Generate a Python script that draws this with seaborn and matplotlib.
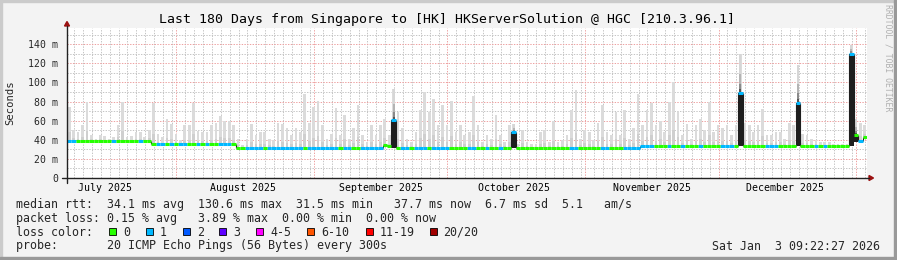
import numpy as np
import pandas as pd
import matplotlib
matplotlib.use("Agg")
import matplotlib.pyplot as plt
import matplotlib.dates as mdates
import matplotlib.transforms as mtransforms
from matplotlib.patches import Rectangle, Polygon
import seaborn as sns

# ---------------- data ----------------
title = "Last 180 Days from Singapore to [HK] HKServerSolution @ HGC [210.3.96.1]"
end_time = "2026-01-03 09:22:27"
n_days = 180

median_ms = (
    [39.0] * 19 + [35.2] * 19 + [31.8] * 33 + [34.5, 33.0, 61.0] + [31.8] * 26
    + [47.7] + [31.8] * 28 + [34.0] * 22 + [88.5] + [34.0] * 12 + [79.0]
    + [34.0] * 11 + [130.3, 45.0, 39.0, 43.0]
)

loss_pings = [
    1, 1, 0, 0, 0, 0, 0, 0, 0, 0,
    1, 0, 0, 0, 0, 0, 1, 0, 0, 0,
    1, 1, 0, 1, 0, 1, 1, 0, 0, 1,
    0, 1, 0, 0, 1, 1, 1, 0, 0, 0,
    1, 1, 1, 1, 0, 1, 1, 1, 1, 1,
    1, 1, 1, 0, 1, 1, 1, 1, 1, 1,
    1, 0, 1, 1, 0, 0, 1, 1, 1, 1,
    1, 0, 0, 1, 0, 1, 1, 0, 1, 1,
    1, 0, 1, 1, 1, 1, 0, 0, 0, 0,
    1, 1, 0, 0, 1, 0, 0, 1, 0, 0,
    1, 0, 0, 0, 0, 0, 0, 0, 0, 0,
    0, 0, 0, 1, 1, 0, 0, 0, 0, 0,
    1, 1, 0, 0, 0, 1, 1, 1, 1, 1,
    1, 1, 0, 0, 0, 1, 0, 0, 1, 0,
    0, 0, 1, 0, 0, 0, 0, 1, 1, 1,
    0, 1, 0, 0, 0, 0, 0, 1, 1, 1,
    0, 0, 0, 0, 1, 0, 0, 0, 1, 0,
    1, 0, 0, 0, 0, 0, 1, 0, 1, 0,
]

smoke_max_ms = [
    74, 50, 48, 55, 80, 45, 41, 45, 44, 41,
    43, 55, 80, 43, 44, 48, 48, 43, 50, 78,
    46, 43, 62, 57, 46, 40, 55, 55, 78, 49,
    48, 48, 55, 58, 65, 60, 60, 55, 41, 35,
    41, 56, 45, 48, 48, 41, 40, 58, 57, 52,
    45, 52, 48, 88, 58, 74, 81, 55, 41, 46,
    73, 45, 66, 41, 52, 76, 45, 38, 55, 45,
    55, 62, 45, 93, 69, 52, 41, 38, 48, 71,
    90, 69, 83, 55, 76, 55, 81, 48, 55, 45,
    48, 86, 55, 38, 45, 41, 66, 45, 38, 55,
    56, 36, 50, 38, 36, 36, 48, 50, 38, 60,
    38, 40, 45, 71, 92, 41, 50, 48, 40, 58,
    76, 48, 45, 69, 45, 71, 41, 52, 88, 55,
    71, 78, 55, 60, 48, 80, 101, 69, 45, 57,
    41, 55, 62, 50, 80, 48, 55, 52, 55, 45,
    55, 130, 58, 55, 48, 55, 72, 45, 45, 48,
    48, 41, 58, 55, 118, 46, 45, 41, 40, 38,
    38, 38, 36, 36, 36, 36, 139, 62, 58, 55,
]

spike_days = [73, 100, 151, 164, 176, 177]
spike_floor_ms = [31.8, 31.8, 34.0, 34.0, 34.0, 38.0]

y_ticks = [0, 20, 40, 60, 80, 100, 120, 140]
y_tick_labels = ["0", "20 m", "40 m", "60 m", "80 m", "100 m", "120 m", "140 m"]
month_labels = ["July 2025", "August 2025", "September 2025", "October 2025",
                "November 2025", "December 2025"]
month_label_dates = ["2025-07-16", "2025-08-16", "2025-09-16", "2025-10-16",
                     "2025-11-16", "2025-12-16"]

loss_labels = ["0", "1", "2", "3", "4-5", "6-10", "11-19", "20/20"]
loss_colors = ["#26ff00", "#00b8ff", "#0059ff", "#5e00ff", "#ff00ff",
               "#ff5500", "#ff0000", "#a10000"]

stats_line1 = "median rtt:  34.1 ms avg  130.6 ms max  31.5 ms min   37.7 ms now  6.7 ms sd  5.1   am/s"
stats_line2 = "packet loss: 0.15 % avg   3.89 % max  0.00 % min  0.00 % now"
stats_line3 = "loss color:"
stats_line4 = "probe:       20 ICMP Echo Pings (56 Bytes) every 300s"
stamp = "Sat Jan  3 09:22:27 2026"
side_text = "RRDTOOL / TOBI OETIKER"

# ---------------- figure ----------------
W, H = 897, 260
sns.set_style("white")
plt.rcParams["font.family"] = ["DejaVu Sans Mono", "DejaVu Sans"]
fig = plt.figure(figsize=(W / 100, H / 100), dpi=100)
fig.patch.set_facecolor("#f3f3f3")

def fx(x):
    return x / W

def fy(y):
    return 1 - y / H

# frame shading
fig.patches.append(Rectangle((0, fy(2)), 1, 2 / H, transform=fig.transFigure, color="#cbcbcb", zorder=0))
fig.patches.append(Rectangle((0, 0), 2 / W, 1, transform=fig.transFigure, color="#cbcbcb", zorder=0))
fig.patches.append(Rectangle((0, 0), 1, 3 / H, transform=fig.transFigure, color="#999999", zorder=0))
fig.patches.append(Rectangle((fx(W - 3), 0), 3 / W, 1, transform=fig.transFigure, color="#999999", zorder=0))

ax = fig.add_axes([fx(67), fy(178), 800 / W, 150 / H])
ax.set_facecolor("white")

end = pd.Timestamp(end_time)
start = end - pd.Timedelta(days=n_days)
day_start = start + pd.to_timedelta(np.arange(n_days), unit="D")
x0 = mdates.date2num(day_start.to_pydatetime())
xm = x0 + 0.5
x1 = x0 + 1.0

med = np.array(median_ms, dtype=float)
smax = np.array(smoke_max_ms, dtype=float)
loss = np.array(loss_pings)

# smoke
ax.bar(xm, smax - med, bottom=med, width=0.6, color="#dbdbdb", zorder=2, linewidth=0)
ax.bar(xm, (smax - med) * 0.25, bottom=med, width=0.6, color="#cfcfcf", zorder=2.1, linewidth=0)

# spikes: dense dark smoke + gradient above
for d, fl in zip(spike_days, spike_floor_ms):
    ax.bar(xm[d], med[d] - fl, bottom=fl, width=1.0, color="#1e1e1e", zorder=3, linewidth=0)
    span = smax[d] - med[d]
    fr = [0.0, 0.1, 0.25, 0.5, 1.0]
    cols = ["#555555", "#8a8a8a", "#b4b4b4", "#d6d6d6"]
    for a, b, c in zip(fr[:-1], fr[1:], cols):
        ax.bar(xm[d], span * (b - a), bottom=med[d] + span * a, width=0.45,
               color=c, zorder=2.5, linewidth=0)

# median transitions (dark verticals)
ax.vlines(x1[:-1], med[:-1], med[1:], color="#1e1e1e", lw=0.8, zorder=4)

# median line coloured by loss, via seaborn
seg = pd.DataFrame({
    "time": np.concatenate([x0, x1]),
    "rtt": np.concatenate([med, med]),
    "seg": np.concatenate([np.arange(n_days), np.arange(n_days)]),
    "loss": np.concatenate([loss, loss]).astype(str),
})
sns.lineplot(data=seg, x="time", y="rtt", hue="loss", units="seg", estimator=None,
             palette={"0": loss_colors[0], "1": loss_colors[1]}, lw=2.2,
             legend=False, ax=ax, zorder=5, solid_capstyle="butt")

# axes limits / grid
ax.set_xlim(mdates.date2num(start.to_pydatetime()), mdates.date2num(end.to_pydatetime()))
ax.set_ylim(0, 157)
ax.xaxis.set_major_locator(mdates.MonthLocator())
ax.xaxis.set_minor_locator(mdates.DayLocator(bymonthday=range(1, 32, 2)))
ax.xaxis.set_major_formatter(plt.NullFormatter())
ax.set_yticks(y_ticks)
ax.set_yticklabels(y_tick_labels)
ax.yaxis.set_minor_locator(matplotlib.ticker.MultipleLocator(10))
ax.grid(which="minor", color="#c4c4c4", lw=0.7, ls=(0, (1.4, 1.4)), zorder=1)
ax.grid(which="major", color="#eda0a0", lw=0.7, ls=(0, (1.4, 1.4)), zorder=1)
ax.set_axisbelow(True)
for s in ax.spines.values():
    s.set_visible(False)
ax.tick_params(axis="x", which="both", length=0, labelbottom=False)
ax.tick_params(axis="y", which="major", length=2.2, width=0.7, color="#333333",
               pad=4, labelsize=7.1, direction="out")
ax.tick_params(axis="y", which="minor", length=0)
ax.set_xlabel("")
ax.set_ylabel("")

# month labels at mid-month
blend = mtransforms.blended_transform_factory(ax.transData, ax.transAxes)
for lab, dt in zip(month_labels, month_label_dates):
    ax.text(mdates.date2num(pd.Timestamp(dt).to_pydatetime()), -9.7 / 150, lab,
            transform=blend, ha="center", va="center", fontsize=7.1, color="black")

# axis lines with arrows (figure pixels)
axis_col = "#222222"
fig.add_artist(plt.Line2D([fx(62), fx(869)], [fy(178), fy(178)], transform=fig.transFigure, color=axis_col, lw=1.0))
fig.add_artist(plt.Line2D([fx(67), fx(67)], [fy(183), fy(26)], transform=fig.transFigure, color=axis_col, lw=1.0))
fig.add_artist(Polygon([[fx(869), fy(175.5)], [fx(873.5), fy(178)], [fx(869), fy(180.5)]],
                       closed=True, transform=fig.transFigure, color="#9b1010"))
fig.add_artist(Polygon([[fx(64.5), fy(26)], [fx(67), fy(21.5)], [fx(69.5), fy(26)]],
                       closed=True, transform=fig.transFigure, color="#9b1010"))

# title and side texts
fig.text(fx(447), fy(19.3), title, ha="center", va="center", fontsize=9.53, color="black")
fig.text(fx(10), fy(103), "Seconds", rotation=90, ha="center", va="center", fontsize=7.6)
fig.text(fx(887.5), fy(4), side_text, rotation=270, ha="center", va="top",
         fontsize=5.9, color="#b0b0b0")

# legend lines
fs = 8.37
fig.text(fx(16), fy(204.3), stats_line1, ha="left", va="center", fontsize=fs)
fig.text(fx(16), fy(218.3), stats_line2, ha="left", va="center", fontsize=fs)
fig.text(fx(16), fy(232.3), stats_line3, ha="left", va="center", fontsize=fs)
fig.text(fx(16), fy(246), stats_line4, ha="left", va="center", fontsize=fs)
fig.text(fx(880), fy(246), stamp, ha="right", va="center", fontsize=fs)

box_x = [109, 145.7, 182.7, 219.3, 256, 306.7, 365.7, 430]
lab_x = [123.3, 160, 196.7, 233.3, 270.7, 321.7, 380, 443]
for bx, lx, lab, col in zip(box_x, lab_x, loss_labels, loss_colors):
    fig.patches.append(Rectangle((fx(bx), fy(235)), 7 / W, 7 / H, transform=fig.transFigure,
                                 facecolor=col, edgecolor="black", lw=0.6))
    fig.text(fx(lx), fy(232.3), lab, ha="left", va="center", fontsize=fs)

fig.savefig("out.png", dpi=100, facecolor=fig.get_facecolor())
